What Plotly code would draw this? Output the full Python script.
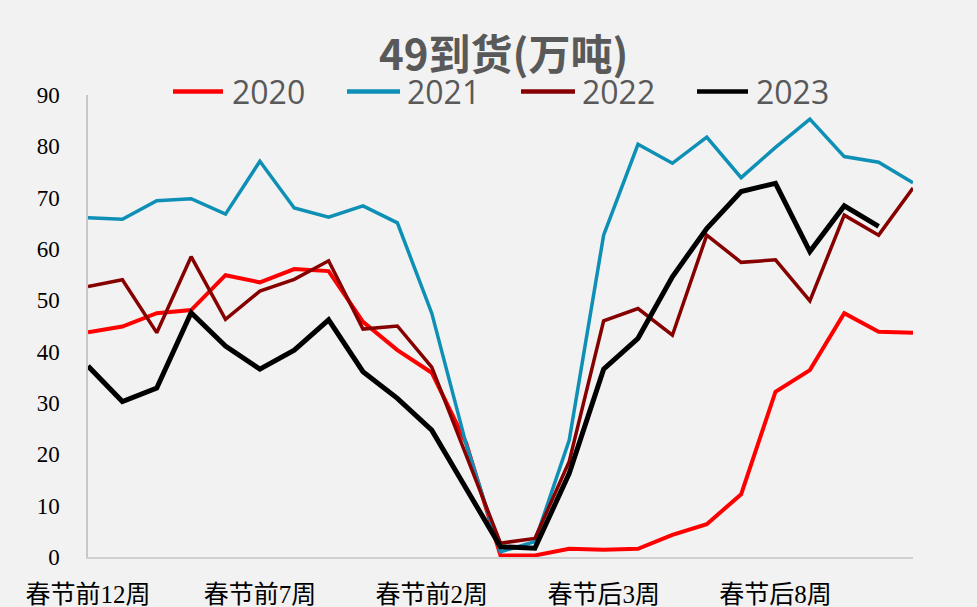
import plotly.graph_objects as go

# Week labels around the Spring Festival
weeks_before = [f"春节前{n}周" for n in range(12, 0, -1)]
weeks_after = [f"春节后{n}周" for n in range(1, 13)]
categories = weeks_before + ["春节当周"] + weeks_after
tick_labels = ["春节前12周", "春节前7周", "春节前2周", "春节后3周", "春节后8周"]

# Arrivals (万吨)
arr_2020 = [43.8, 44.9, 47.5, 48.1, 54.9, 53.5, 56.1, 55.7, 45.8, 40.3, 35.9, 22.2,
            0.3, 0.3, 1.6, 1.4, 1.6, 4.3, 6.4, 12.2, 32.2, 36.4, 47.5, 43.9, 43.7]
arr_2021 = [66.1, 65.8, 69.4, 69.8, 66.8, 77.1, 68.0, 66.2, 68.4, 65.1, 47.5, 22.0,
            1.0, 3.0, 22.8, 62.7, 80.4, 76.7, 81.8, 73.9, 79.8, 85.3, 78.0, 76.9, 72.9]
arr_2022 = [52.7, 54.0, 43.7, 58.5, 46.3, 51.8, 54.1, 57.7, 44.4, 45.0, 37.0, 20.0,
            2.7, 3.6, 18.6, 46.0, 48.4, 43.2, 62.7, 57.4, 57.9, 49.9, 66.6, 62.7, 71.9]
arr_2023 = [37.2, 30.3, 32.9, 47.6, 41.1, 36.6, 40.3, 46.2, 36.1, 30.9, 24.7, 13.4,
            2.0, 1.7, 16.3, 36.6, 42.6, 54.6, 64.0, 71.2, 72.8, 59.5, 68.4, 64.4, None]

series = [
    ("2020", arr_2020, "#ff0000", 4),
    ("2021", arr_2021, "#0d8fb6", 3.5),
    ("2022", arr_2022, "#860000", 3.5),
    ("2023", arr_2023, "#000000", 5),
]

W, H = 977, 607
L, R, T, B = 88, 64, 95, 50
PW, PH = W - L - R, H - T - B


def px_x(px):
    return (px - L) / PW


def px_y(py):
    return 1 + (T - py) / PH


fig = go.Figure()
for name, vals, color, width in series:
    fig.add_trace(go.Scatter(
        x=categories, y=vals, mode="lines", name=name,
        line=dict(color=color, width=width), connectgaps=False,
        showlegend=False,
    ))

# Legend row: sample line + label for each year
legend_pos = [(173, 223, 230), (347, 400, 405), (521, 575, 580), (697, 748, 754)]
annotations = []
shapes = []
for (name, _, color, width), (lx0, lx1, tx) in zip(series, legend_pos):
    shapes.append(dict(type="line", xref="paper", yref="paper",
                       x0=px_x(lx0), x1=px_x(lx1), y0=px_y(91.5), y1=px_y(91.5),
                       line=dict(color=color, width=4.5)))
    annotations.append(dict(text=name, xref="paper", yref="paper",
                            x=px_x(tx), y=px_y(91), xanchor="left", yanchor="middle",
                            showarrow=False,
                            font=dict(family="Open Sans", size=32, color="#595959")))

annotations.append(dict(text="<b>49到货(万吨)</b>", xref="paper", yref="paper",
                        x=px_x(503), y=px_y(52), xanchor="center", yanchor="middle",
                        showarrow=False,
                        font=dict(family="Noto Sans CJK SC", size=42, color="#595959")))

fig.update_layout(
    width=W, height=H,
    margin=dict(l=L, r=R, t=T, b=B, autoexpand=False),
    paper_bgcolor="#f2f2f2", plot_bgcolor="#f2f2f2",
    annotations=annotations, shapes=shapes,
    xaxis=dict(
        type="category", range=[0, 24], automargin=False,
        tickmode="array", tickvals=tick_labels, ticktext=tick_labels,
        showgrid=False, zeroline=False,
        showline=True, linecolor="#d0d0d0", linewidth=2,
        ticks="", ticklabelstandoff=14,
        tickfont=dict(family="Liberation Serif, Noto Sans CJK SC", size=25, color="#000000"),
    ),
    yaxis=dict(
        range=[0, 90], dtick=10, tick0=0, automargin=False,
        showgrid=False, zeroline=False,
        showline=True, linecolor="#c8c8c8", linewidth=1.5,
        ticks="", ticklabelstandoff=22,
        tickfont=dict(family="Liberation Serif", size=23, color="#000000"),
    ),
)

fig.write_html("out.html")
